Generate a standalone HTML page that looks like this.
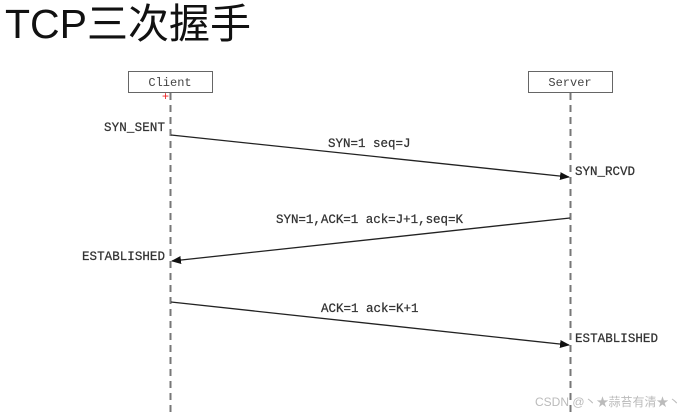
<!DOCTYPE html>
<html><head><meta charset="utf-8"><style>
html,body{margin:0;padding:0;background:#fff;width:689px;height:415px;overflow:hidden}
</style></head><body>
<svg width="689" height="415" xmlns="http://www.w3.org/2000/svg">
<defs><marker id="a" markerWidth="10" markerHeight="8" refX="9" refY="4" orient="auto" markerUnits="userSpaceOnUse"><path d="M0,0 L10,4 L0,8 z" fill="#111"/></marker></defs>
<text x="5" y="38" font-family="Liberation Sans, Noto Sans CJK SC, sans-serif" font-size="41" fill="#111">TCP三次握手</text>
<rect x="128.5" y="71.5" width="84" height="21" fill="#fff" stroke="#666"/>
<rect x="528.5" y="71.5" width="84" height="21" fill="#fff" stroke="#666"/>
<g font-family="Liberation Mono, monospace" font-size="12" fill="#444">
<text x="170" y="86" text-anchor="middle">Client</text>
<text x="570" y="86" text-anchor="middle">Server</text>
</g>
<line x1="170.5" y1="93" x2="170.5" y2="415" stroke="#777" stroke-width="2" stroke-dasharray="7,5"/>
<line x1="570.5" y1="93" x2="570.5" y2="415" stroke="#777" stroke-width="2" stroke-dasharray="7,5"/>
<text x="162" y="100" font-size="12" fill="#e22" font-family="Liberation Sans,sans-serif">+</text>
<g stroke="#222" stroke-width="1.3" fill="none">
<line x1="171" y1="135" x2="569" y2="177" marker-end="url(#a)"/>
<line x1="570" y1="218" x2="172" y2="261" marker-end="url(#a)"/>
<line x1="171" y1="302" x2="569" y2="345" marker-end="url(#a)"/>
</g>
<g font-family="Liberation Mono, monospace" font-size="12.5" fill="#333" stroke="#333" stroke-width="0.25">
<text x="104" y="131" textLength="61">SYN_SENT</text>
<text x="328" y="147">SYN=1 seq=J</text>
<text x="575" y="175">SYN_RCVD</text>
<text x="276" y="223" textLength="187">SYN=1,ACK=1 ack=J+1,seq=K</text>
<text x="82" y="260" textLength="83">ESTABLISHED</text>
<text x="321" y="312">ACK=1 ack=K+1</text>
<text x="575" y="342" textLength="83">ESTABLISHED</text>
</g>
<text x="535" y="406" font-family="Liberation Sans, Noto Sans CJK SC, sans-serif" font-size="12" fill="#bbb">CSDN @丶★蒜苔有清★丶</text>
</svg>
</body></html>
